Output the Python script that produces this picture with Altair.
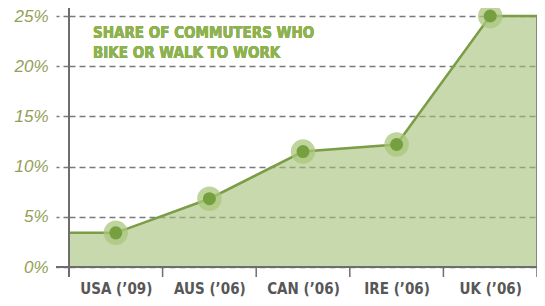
import altair as alt
import pandas as pd

countries = ["USA (\u201909)", "AUS (\u201906)", "CAN (\u201906)", "IRE (\u201906)", "UK (\u201906)"]
shares = [3.4, 6.8, 11.5, 12.2, 25.0]
y_ticks = [0, 5, 10, 15, 20, 25]
title_lines = ["SHARE OF COMMUTERS WHO", "BIKE OR WALK TO WORK"]

W, H = 468, 251
n = len(countries)

pts = pd.DataFrame({"pos": [i + 0.5 for i in range(n)], "share": shares, "country": countries})
# area/line run flat to both edges of the plot
edge = pd.DataFrame({
    "pos": [0] + [i + 0.5 for i in range(n)] + [n],
    "share": [shares[0]] + shares + [shares[-1]],
})
ticks = pd.DataFrame({"pos": list(range(n + 1))})

label_expr = "[" + ",".join("'" + c.replace("'", "\\'") + "'" for c in countries) + "][floor(datum.value)]"

xs = alt.Scale(domain=[0, n], nice=False, zero=False)
ys = alt.Scale(domain=[0, 25], nice=False)

x_enc = alt.X("pos:Q", scale=xs, axis=alt.Axis(
    values=[i + 0.5 for i in range(n)], labelExpr=label_expr, ticks=False, domain=False,
    grid=False, title=None, labelFont="DejaVu Sans Condensed, Liberation Sans", labelFontWeight="bold",
    labelFontSize=15, labelColor="#575757", labelPadding=14))
y_enc = alt.Y("share:Q", scale=ys, axis=alt.Axis(
    values=y_ticks, format=".0f", labelExpr="datum.value + '%'", title=None,
    grid=True, gridColor="#7a7a7a", gridDash=[6, 4], gridWidth=1.5,
    ticks=True, tickSize=13, tickColor="#7a7a7a", tickDash=[6, 4], tickWidth=1.5,
    domain=False, labelFont="Liberation Sans", labelFontStyle="italic",
    labelFontSize=17, labelColor="#93a058", labelPadding=8))

base = alt.Chart(edge)

area = base.mark_area(color="#a3bf78", opacity=0.6).encode(x=x_enc, y=y_enc)
line = base.mark_line(color="#7a9d45", strokeWidth=2.5).encode(x="pos:Q", y="share:Q")

halo = alt.Chart(pts).mark_point(filled=True, size=600, color="#a9c77c", opacity=0.75).encode(
    x="pos:Q", y="share:Q")
dot = alt.Chart(pts).mark_point(filled=True, size=170, color="#76a040", opacity=1).encode(
    x="pos:Q", y="share:Q")

xticks = alt.Chart(ticks).mark_rule(color="#6e6e6e", strokeWidth=1.5).encode(
    x="pos:Q", y=alt.value(H), y2=alt.value(H + 10))
left_axis = alt.Chart(ticks).mark_rule(color="#6e6e6e", strokeWidth=1.5).encode(
    x=alt.value(0), y=alt.value(-11), y2=alt.value(H + 10))
bottom = alt.Chart(ticks).mark_rule(color="#6e6e6e", strokeWidth=1.5).encode(
    x=alt.value(-13), x2=alt.value(W), y=alt.value(H))
right_edge = alt.Chart(pd.DataFrame({"pos": [n], "share": [shares[-1]]})).mark_rule(
    color="#6e6e6e", strokeWidth=1.5).encode(x="pos:Q", y="share:Q", y2=alt.value(H))

title = alt.Chart(ticks).mark_text(
    align="left", baseline="alphabetic", font="DejaVu Sans Condensed, Liberation Sans", fontWeight="bold",
    fontSize=15, color="#8db350", lineHeight=20).encode(
    x=alt.value(24), y=alt.value(22), text=alt.value(title_lines))

chart = alt.layer(area, right_edge, line, halo, dot, xticks, left_axis, bottom, title).properties(
    width=W, height=H,
    autosize=alt.AutoSizeParams(type="none"),
    padding={"left": 61, "top": 8, "right": 0, "bottom": 36},
).configure_view(stroke=None)

chart.save("out.html", embed_options={"renderer": "svg", "actions": False})
